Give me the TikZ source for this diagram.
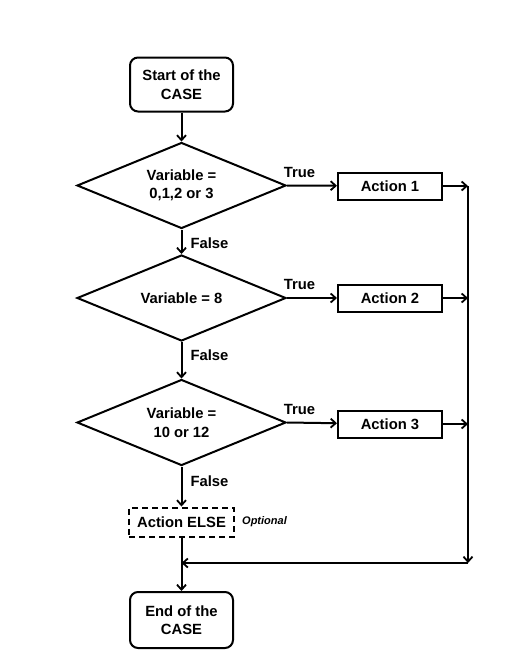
\documentclass[tikz,border=0pt]{standalone}
\usepackage{fontspec}
\setmainfont{Liberation Sans}
\usetikzlibrary{shapes.geometric,arrows.meta}
\begin{document}
\begin{tikzpicture}[x=1pt,y=-1pt,
  every node/.style={font=\bfseries\fontsize{14.8}{18.5}\selectfont},
  arr/.style={line width=2pt, -{Straight Barb[length=5pt,width=9pt,line width=1.8pt]}},
  term/.style={draw,line width=2pt,rounded corners=8pt,minimum width=103pt,minimum height=54pt,align=center,inner sep=2pt},
  dec/.style={draw,diamond,line width=2pt,aspect=2.43,minimum width=209pt,minimum height=86pt,inner sep=0pt,align=center},
  act/.style={draw,line width=2pt,minimum width=104pt,minimum height=27pt,inner sep=2pt},
  lbl/.style={inner sep=0pt}
]
\useasboundingbox (0,0) rectangle (504,662);
\node[term] (start) at (181.5,84.5) {Start of the\\CASE};
\node[dec] (d1) at (181.5,185.5) {Variable =\\0,1,2 or 3};
\node[dec] (d2) at (181.5,298) {Variable = 8};
\node[dec] (d3) at (181.5,422.5) {Variable =\\10 or 12};
\node[act] (a1) at (390,186) {Action 1};
\node[act] (a2) at (390,298) {Action 2};
\node[act] (a3) at (390,424) {Action 3};
\node[act,dashed,dash pattern=on 6pt off 4pt,minimum height=29pt,minimum width=105pt] (ae) at (181.5,522) {Action ELSE};
\node[lbl,font=\bfseries\itshape\fontsize{11}{12}\selectfont,anchor=west] (opt) at (242,522) {Optional};
\node[term,minimum height=56pt] (end) at (181.5,620) {End of the\\CASE};
\coordinate (r1) at (468,186);
\coordinate (r2) at (468,298);
\coordinate (r3) at (468,424);
\coordinate (rb) at (468,563);
\coordinate (mb) at (181.5,563);
\draw[arr] (start) -- (d1);
\draw[arr] (d1) -- node[lbl,anchor=west,xshift=8pt,yshift=-1pt]{False} (d2);
\draw[arr] (d2) -- node[lbl,anchor=west,xshift=8pt,yshift=5pt]{False} (d3);
\draw[arr] (d3) -- node[lbl,anchor=west,xshift=8pt,yshift=5pt]{False} (ae);
\draw[arr] (d1.east) -- node[lbl,pos=0.25,above,yshift=7pt]{True} (a1);
\draw[arr] (d2.east) -- node[lbl,pos=0.25,above,yshift=7pt]{True} (a2);
\draw[arr] (d3.east) -- node[lbl,pos=0.25,above,yshift=7pt]{True} (a3);
\draw[arr] (a1) -- (r1);
\draw[arr] (a2) -- (r2);
\draw[arr] (a3) -- (r3);
\draw[arr] (r1) -- (rb);
\draw[arr] (rb) -- (mb);
\draw[arr] (ae) -- (end);
\end{tikzpicture}
\end{document}
